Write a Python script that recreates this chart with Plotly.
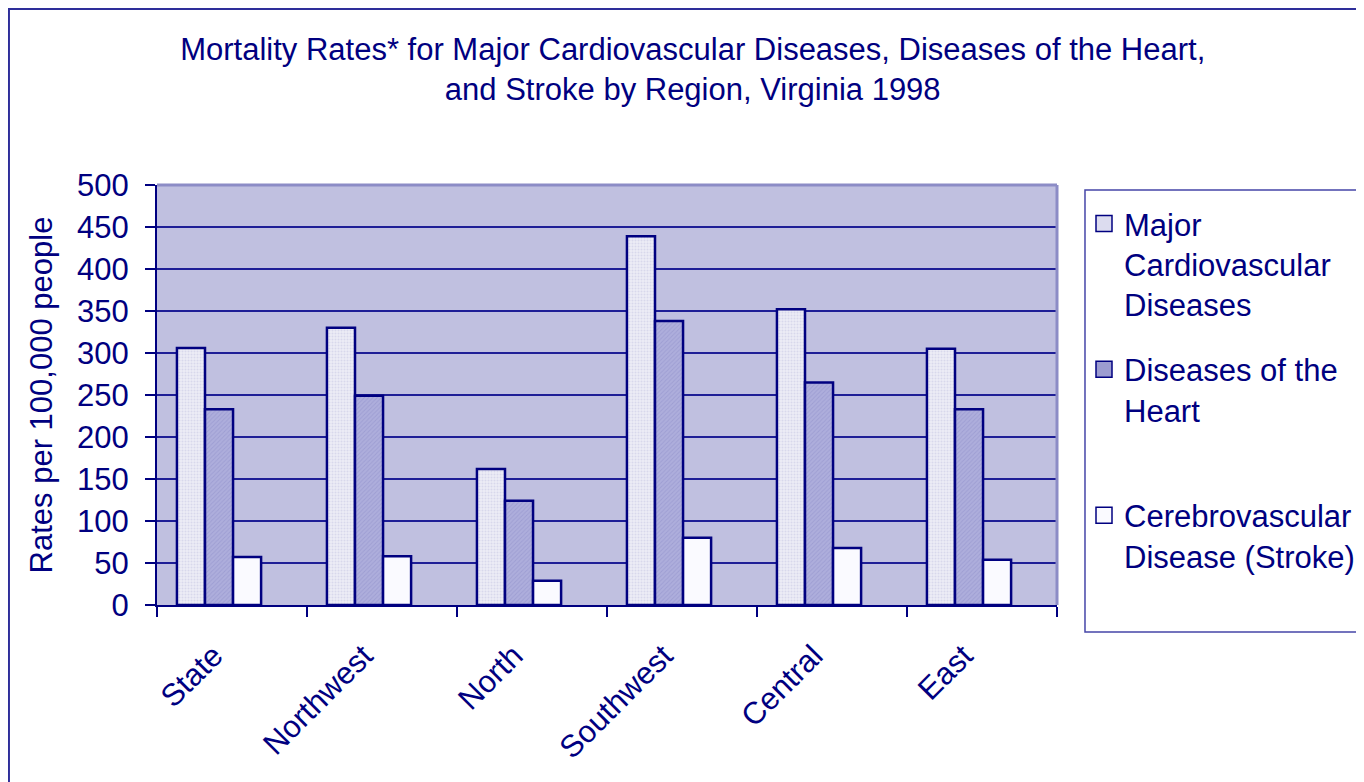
import plotly.graph_objects as go

regions = ["State", "Northwest", "North", "Southwest", "Central", "East"]
major_cvd = [306, 330, 162, 439, 352, 305]
heart = [233, 249, 124, 338, 265, 233]
stroke = [57, 58, 29, 80, 68, 54]

legend_names = ["Major<br>Cardiovascular<br>Diseases",
                "Diseases of the<br>Heart<br> ",
                "Cerebrovascular<br>Disease (Stroke)"]

NAVY = "#000080"
FONT = "Liberation Sans, Arial, sans-serif"
FS = 31

fig = go.Figure()

# three series, outlined in navy like the old Excel chart
fig.add_trace(go.Bar(
    x=regions, y=major_cvd, showlegend=False,
    width=0.187, offset=-0.367,
    marker=dict(color="#E6E6F3", line=dict(color=NAVY, width=2.5),
                pattern=dict(shape=".", fgcolor="#C4C4E0", bgcolor="#ECECF6", size=3, solidity=0.35)),
))
fig.add_trace(go.Bar(
    x=regions, y=heart, showlegend=False,
    width=0.187, offset=-0.18,
    marker=dict(color="#A8A8D8", line=dict(color=NAVY, width=2.5),
                pattern=dict(shape="/", fgcolor="#8E8EC8", bgcolor="#AEAEDC", size=3, solidity=0.3)),
))
fig.add_trace(go.Bar(
    x=regions, y=stroke, showlegend=False,
    width=0.187, offset=0.007,
    marker=dict(color="#FAFAFF", line=dict(color=NAVY, width=2.5)),
))

# legend entries with bigger square keys
for name, col, grp in zip(legend_names, ["#DCDCEF", "#9C9CD0", "#FAFAFF"], ["a", "b", "c"]):
    fig.add_trace(go.Scatter(
        x=[None], y=[None], mode="markers", name=name, legendgroup=grp,
        marker=dict(symbol="square", size=16, color=col, line=dict(color=NAVY, width=1.5)),
    ))

fig.update_layout(
    width=1364, height=782,
    barmode="overlay",
    paper_bgcolor="white",
    plot_bgcolor="#C0C0E0",
    font=dict(family=FONT, color=NAVY, size=FS),
    margin=dict(l=149, r=315, t=177, b=185, autoexpand=False),
    title=dict(
        text="Mortality Rates* for Major Cardiovascular Diseases, Diseases of the Heart,<br>and Stroke by Region, Virginia 1998",
        x=0.502, xanchor="center", y=0.9335, yanchor="top",
        font=dict(size=FS, color=NAVY, family=FONT),
    ),
    legend=dict(
        x=1.03, xanchor="left", y=0.972, yanchor="top",
        valign="top", traceorder="grouped", tracegroupgap=22,
        font=dict(size=FS, color=NAVY), bgcolor="rgba(0,0,0,0)",
        itemwidth=30,
    ),
    showlegend=True,
)

fig.update_yaxes(
    range=[0, 500], dtick=50,
    showgrid=True, gridcolor="#1E1E96", gridwidth=1.5,
    showline=True, linecolor=NAVY, linewidth=2,
    ticks="outside", ticklen=10, tickcolor=NAVY, tickwidth=1.5,
    ticklabelstandoff=10,
    tickfont=dict(size=FS),
    title=dict(text="Rates per 100,000 people", standoff=15, font=dict(size=FS)),
    zeroline=False,
)
fig.update_xaxes(
    range=[-0.5, 5.5],
    showline=True, linecolor=NAVY, linewidth=2,
    ticks="outside", tickson="boundaries", ticklen=10, tickcolor=NAVY, tickwidth=1.5,
    tickmode="array", tickvals=regions, ticktext=[r + "\u00a0\u00a0\u00a0" for r in regions],
    tickangle=-45, tickfont=dict(size=FS), ticklabelstandoff=0,
    showgrid=False,
)

# soft border on the top and right of the plot area
fig.add_shape(type="line", xref="paper", yref="paper", x0=0, x1=1, y0=1, y1=1,
              line=dict(color="#8C8CC6", width=3))
fig.add_shape(type="line", xref="paper", yref="paper", x0=1, x1=1, y0=0, y1=1,
              line=dict(color="#8C8CC6", width=3))
# legend box
fig.add_shape(type="rect", xref="paper", yref="paper", x0=1.0311, x1=1.36, y0=-0.0643, y1=0.988,
              line=dict(color="#4646A8", width=1.5))
# outer chart frame, running off the right and bottom edges
fig.add_shape(type="rect", xref="paper", yref="paper", x0=-0.1645, x1=1.36, y0=-0.45, y1=1.419,
              line=dict(color="#2E2E9A", width=2))

fig.write_html("out.html")
